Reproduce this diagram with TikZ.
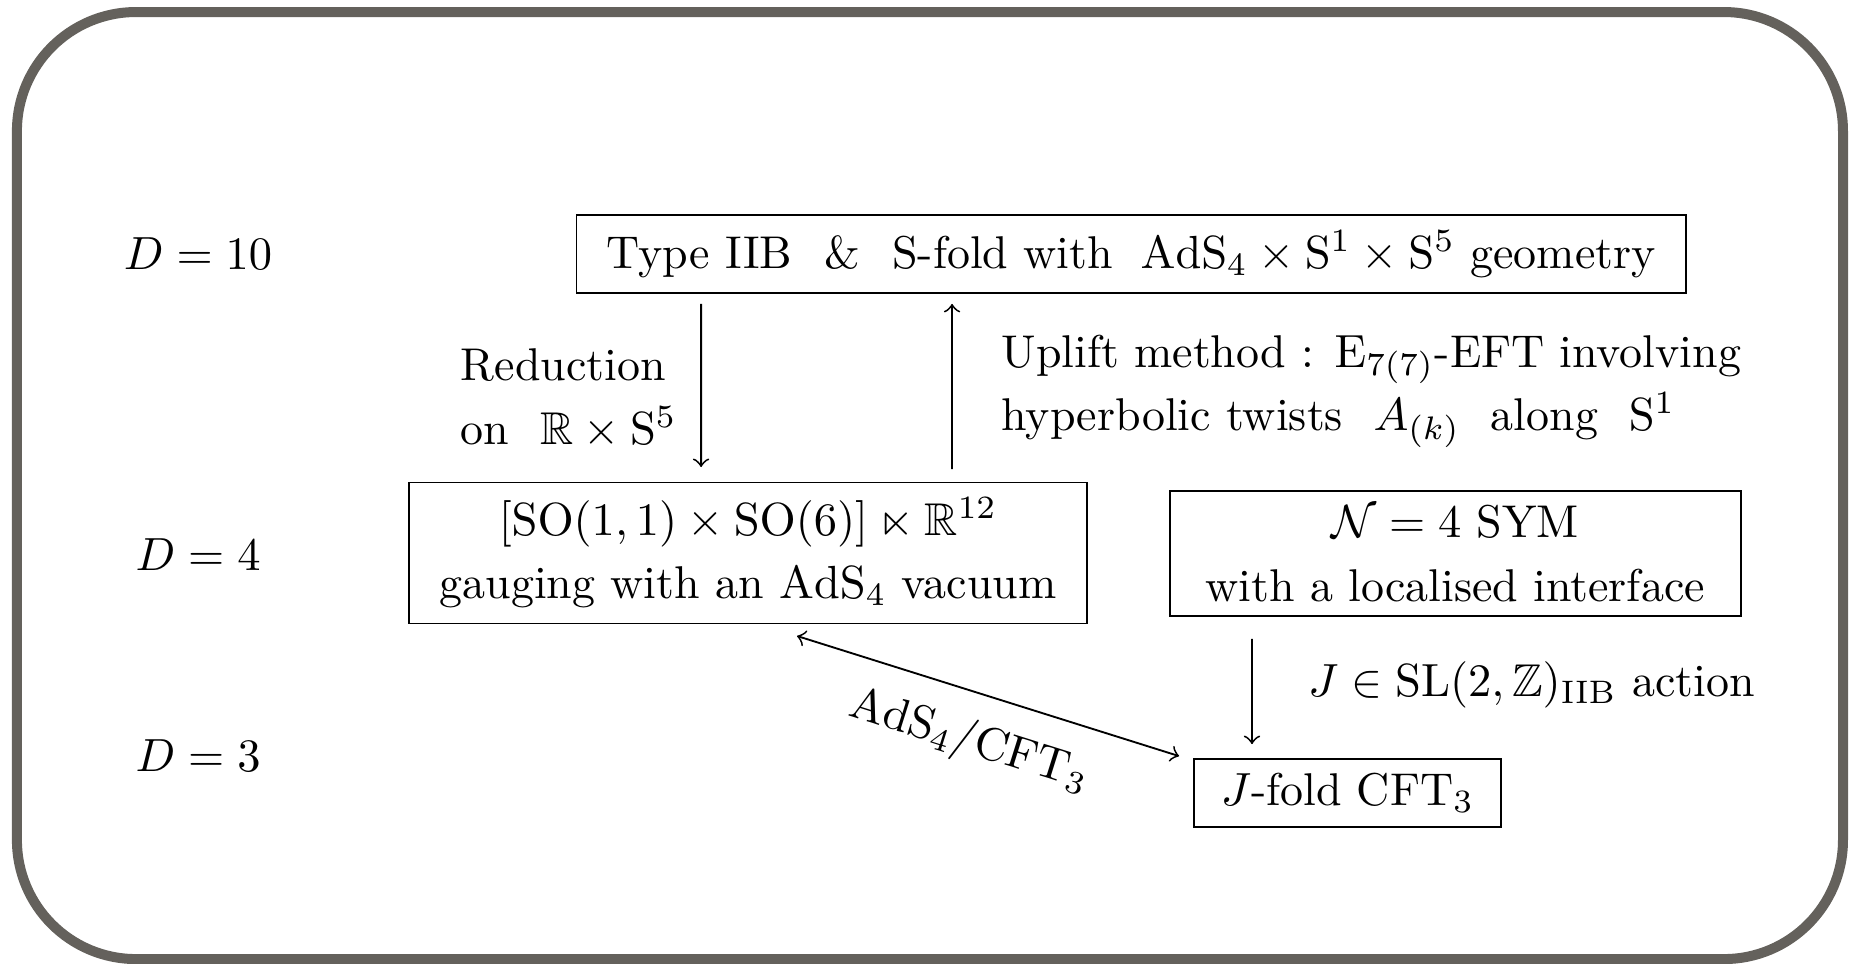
\documentclass[tikz,border=0pt]{standalone}
\usepackage{amsmath,amssymb}
\usetikzlibrary{positioning}
\definecolor{framegray}{RGB}{100,97,92}

\begin{document}
\begin{tikzpicture}[
        >=to,
        font=\fontsize{9.88}{11.86}\selectfont,
        box/.style={draw, rectangle, align=center, inner sep=2pt}
    ]
        \useasboundingbox (0,0) rectangle (13.983,-7.286);
        \draw[framegray, line width=2.15pt, rounded corners=0.9cm] (0.128,-0.091) rectangle (13.93,-7.249);

        \node (d10) at (1.497,-1.920) {$D=10$};
        \node (d4) at (1.497,-4.195) {$D=4$};
        \node (d3) at (1.497,-5.714) {$D=3$};

        \node[box, minimum width=8.383cm, minimum height=0.59cm] (typeiib) at (8.549,-1.920) {Type IIB\hspace{0.7em}\&\hspace{0.7em}S-fold with\hspace{0.6em}$\mathrm{AdS}_4\times\mathrm{S}^1\times\mathrm{S}^5$ geometry};
        \node[box, minimum width=5.125cm, minimum height=1.066cm] (gauge) at (5.654,-4.180) {$[\mathrm{SO}(1,1)\times\mathrm{SO}(6)]\ltimes\mathbb{R}^{12}$\\[1.8pt] gauging with an $\mathrm{AdS}_4$ vacuum};
        \node[box, minimum width=4.316cm, minimum height=0.945cm] (sym) at (10.998,-4.184) {$\mathcal{N}=4$ SYM\\[1.8pt] with a localised interface};
        \node[box, minimum width=2.32cm, minimum height=0.514cm] (jfold) at (10.185,-5.994) {$J$-fold CFT$_3$};

        \draw[->] ([xshift=-3.25cm,yshift=-0.075cm]typeiib.south) -- node[left=0.06cm, yshift=-0.1cm, align=left] {Reduction\\[1.8pt] on\ \ $\mathbb{R}\times\mathrm{S}^5$} ([xshift=-0.355cm,yshift=0.11cm]gauge.north);
        \draw[->] ([xshift=1.542cm,yshift=0.094cm]gauge.north) -- node[right=0.25cm, yshift=-0.035cm, align=left] {Uplift method : $\mathrm{E}_{7(7)}$-EFT involving\\[1.8pt] hyperbolic twists\ \ $A_{(k)}$\ \ along\ \ $\mathrm{S}^1$} ([xshift=-1.353cm,yshift=-0.075cm]typeiib.south);
        \draw[->] ([xshift=-1.535cm,yshift=-0.166cm]sym.south) -- node[right=0.3cm, yshift=0.05cm] {$J\in\mathrm{SL}(2,\mathbb{Z})_{\mathrm{IIB}}$ action} ([xshift=-0.722cm,yshift=0.106cm]jfold.north);
        \draw[<->] ([xshift=0.37cm,yshift=-0.087cm]gauge.south) -- node[below=2pt, sloped, pos=0.49] {$\mathrm{AdS}_4/\mathrm{CFT}_3$} ([xshift=-0.106cm,yshift=0.015cm]jfold.north west);
    \end{tikzpicture}
\end{document}
